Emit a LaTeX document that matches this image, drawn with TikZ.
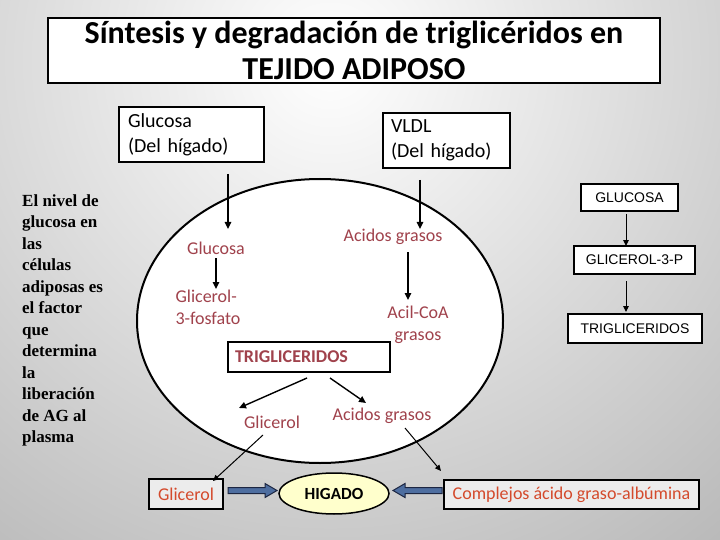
\documentclass[tikz,border=0pt]{standalone}
\usepackage{fontspec}
\setmainfont{Carlito}
\newfontfamily\tnr{Liberation Serif}
\newfontfamily\lsans{Liberation Sans}
\usetikzlibrary{shapes.geometric,arrows.meta}
\definecolor{bgdark}{RGB}{126,126,126}
\definecolor{inred}{RGB}{160,66,76}
\definecolor{outred}{RGB}{212,74,44}
\definecolor{fatblue}{RGB}{78,110,160}
\definecolor{fatedge}{RGB}{28,38,66}
\definecolor{higfill}{RGB}{255,255,204}
\definecolor{boxgray}{RGB}{236,236,236}
\begin{document}
\begin{tikzpicture}[x=1pt,y=-1pt,
  box/.style={draw=black, line width=2pt, fill=white, inner sep=0pt},
  arr/.style={line width=1.4pt, -{Triangle[length=7pt,width=6.5pt]}},
  thinarr/.style={line width=1pt, -{Triangle[length=6pt,width=5.5pt]}},
  lbl/.style={inner sep=0pt, text=inred, font=\fontsize{18}{21.5}\selectfont},
  rbox/.style={draw=black, line width=2pt, fill=white, inner sep=0pt, font=\lsans\fontsize{14}{16}\selectfont},
  fat/.style={fill=fatblue, draw=fatedge, line width=1pt}
]
\useasboundingbox (0,0) rectangle (720,540);
\begin{scope}
  \clip (0,0) rectangle (720,540);
  \shade[inner color=white, outer color=bgdark] (330,60) circle (1150);
\end{scope}

% title
\node[box, minimum width=612pt, minimum height=65pt, align=center,
      font=\bfseries\fontsize{32}{35.5}\selectfont] (title) at (354,50.5)
  {Síntesis y degradación de triglicéridos en\\TEJIDO ADIPOSO};

% top boxes
\node[box, minimum width=145pt, minimum height=55pt, inner xsep=9pt, text width=127pt,
      align=left, font=\fontsize{20}{25}\selectfont] (gbox) at (191.5,134.5)
  {Glucosa\\(Del hígado)};
\node[box, minimum width=127pt, minimum height=55pt, inner xsep=8pt, text width=111pt,
      align=left, font=\fontsize{20}{25}\selectfont] (vbox) at (446.5,140.5)
  {VLDL\\(Del hígado)};

% left text
\node[inner sep=0pt, anchor=north west, align=left,
      font=\tnr\bfseries\fontsize{17}{21.5}\selectfont] (side) at (22,194.5)
  {El nivel de\\glucosa en\\las\\células\\adiposas es\\el factor\\que\\determina\\la\\liberación\\de AG al\\plasma};

% cell
\node[ellipse, draw=black, line width=2pt, fill=white, inner sep=0pt,
      minimum width=366pt, minimum height=284pt] (cell) at (320,321) {};

% inner labels
\node[lbl] (iglu) at (216,248) {Glucosa};
\node[lbl] (iag) at (393,237) {Acidos grasos};
\node[lbl, align=left] (ig3p) at (208,307.5) {Glicerol-\\3-fosfato};
\node[lbl, align=center] (iacil) at (418,325) {Acil-CoA\\grasos};
\node[box, minimum width=162pt, minimum height=30pt, inner xsep=7pt, text width=148pt,
      align=left, text=inred, font=\bfseries\fontsize{18}{21}\selectfont] (trig) at (309,357)
  {TRIGLICERIDOS};
\node[lbl] (iglic) at (272,422) {Glicerol};
\node[lbl] (iag2) at (382,416) {Acidos grasos};

% bottom row
\node[draw=black, line width=2pt, fill=boxgray, minimum width=74pt, minimum height=30pt,
      inner sep=0pt, text=outred, font=\fontsize{18}{21}\selectfont] (bglic) at (186,494) {Glicerol};
\node[ellipse, draw=black, line width=1.5pt, fill=higfill, minimum width=110pt, minimum height=41pt,
      inner sep=0pt, font=\bfseries\fontsize{17}{20}\selectfont] (hig) at (334,493.5) {HIGADO};
\node[draw=black, line width=2pt, fill=boxgray, minimum width=255pt, minimum height=29pt,
      inner sep=0pt, text=outred, font=\fontsize{18}{21}\selectfont] (comp) at (571.5,494.5)
  {Complejos ácido graso-albúmina};

% right column
\node[rbox, minimum width=97pt, minimum height=27pt] (r1) at (629.5,197.5) {GLUCOSA};
\node[rbox, minimum width=121pt, minimum height=28pt] (r2) at (634.5,260) {GLICEROL-3-P};
\node[rbox, minimum width=134pt, minimum height=29pt] (r3) at (635,328.5) {TRIGLICERIDOS};

% connector end points
\coordinate (a1s) at (228,174); \coordinate (a1e) at (228,229);
\coordinate (a2s) at (420,180); \coordinate (a2e) at (420,229);
\coordinate (a3s) at (216,258); \coordinate (a3e) at (216,289);
\coordinate (a4s) at (408,252); \coordinate (a4e) at (408,300);
\coordinate (a5s) at (307,378); \coordinate (a5e) at (239,408);
\coordinate (a6s) at (330,378); \coordinate (a6e) at (366,403);
\coordinate (a7s) at (263,435); \coordinate (a7e) at (213,481);
\coordinate (a8s) at (405,428); \coordinate (a8e) at (441,471);
\coordinate (r1s) at (626,214); \coordinate (r1e) at (626,246);
\coordinate (r2s) at (626,281); \coordinate (r2e) at (626,312);

\draw[arr] (a1s) -- (a1e);
\draw[arr] (a2s) -- (a2e);
\draw[arr] (a3s) -- (a3e);
\draw[arr] (a4s) -- (a4e);
\draw[arr] (a5s) -- (a5e);
\draw[arr] (a6s) -- (a6e);
\draw[thinarr] (a7s) -- (a7e);
\draw[thinarr] (a8s) -- (a8e);
\draw[thinarr] (r1s) -- (r1e);
\draw[thinarr] (r2s) -- (r2e);

% fat arrows to HIGADO
\draw[fat] (228,487.5) -- (265,487.5) -- (265,483.5) -- (277,490.5) -- (265,497.5) -- (265,493.5) -- (228,493.5) -- cycle;
\draw[fat] (442,487.5) -- (405,487.5) -- (405,483.5) -- (393,490.5) -- (405,497.5) -- (405,493.5) -- (442,493.5) -- cycle;
\end{tikzpicture}
\end{document}
